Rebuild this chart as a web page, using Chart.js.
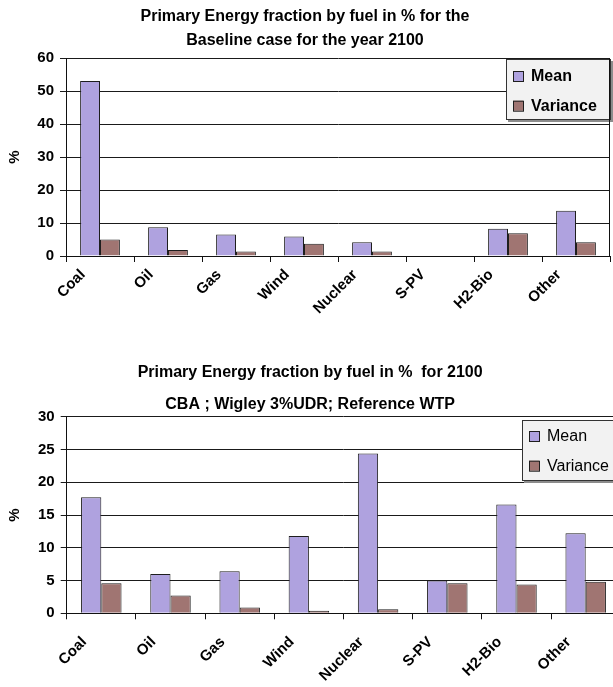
<!DOCTYPE html>
<html>
<head>
<meta charset="utf-8">
<script src="https://cdn.jsdelivr.net/npm/chart.js@4"></script>
<style>
  html, body { margin: 0; padding: 0; background: #fff; width: 613px; height: 687px; overflow: hidden; position: relative; }
  canvas { position: absolute; left: 0; }
  #baseline { top: 0; }
  #cba { top: 350px; }
</style>
</head>
<body>
<canvas id="baseline" width="613" height="330"></canvas>
<canvas id="cba" width="662" height="337"></canvas>
<script>
// Fuel categories shared by both panels
const fuels = ['Coal', 'Oil', 'Gas', 'Wind', 'Nuclear', 'S-PV', 'H2-Bio', 'Other'];

// Baseline case, year 2100 (% of primary energy)
const baselineMean     = [53.1, 8.7, 6.5, 5.9, 4.2, 0, 8.3, 13.7];
const baselineVariance = [5.0, 1.8, 1.4, 3.7, 1.4, 0, 6.9, 4.2];
const baselineTicks    = [0, 10, 20, 30, 40, 50, 60];

// CBA ; Wigley 3%UDR ; Reference WTP, year 2100
const cbaMean     = [17.7, 6.0, 6.4, 11.8, 24.4, 5.0, 16.6, 12.2];
const cbaVariance = [4.6, 2.7, 0.9, 0.4, 0.6, 4.6, 4.4, 4.8];
const cbaTicks    = [0, 5, 10, 15, 20, 25, 30];

const FONT = '"Liberation Sans", Arial, Helvetica, sans-serif';
const MEAN_COLOR = '#afa2df';
const VAR_COLOR = '#a07572';
const EDGE = '#1e1e1e';

// Boxed legend drawn inside the plot area
const boxLegend = {
  id: 'boxLegend',
  afterDatasetsDraw(chart, args, o) {
    if (!o || !o.w) return;
    const ctx = chart.ctx;
    ctx.save();
    ctx.fillStyle = '#8c8c8c';
    ctx.fillRect(o.x + 2, o.y + 2, o.w, o.h);
    ctx.fillStyle = '#f2f2f2';
    ctx.fillRect(o.x, o.y, o.w, o.h);
    ctx.strokeStyle = '#333';
    ctx.lineWidth = 1;
    ctx.strokeRect(o.x + 0.5, o.y + 0.5, o.w - 1, o.h - 1);
    ctx.font = o.font;
    ctx.textBaseline = 'middle';
    ctx.textAlign = 'left';
    chart.data.datasets.forEach((ds, i) => {
      const cy = o.rows[i];
      ctx.fillStyle = ds.backgroundColor;
      ctx.fillRect(o.swatchX, cy - 5, 10, 10);
      ctx.strokeStyle = EDGE;
      ctx.strokeRect(o.swatchX + 0.5, cy - 4.5, 10, 10);
      ctx.fillStyle = '#000';
      ctx.fillText(ds.label, o.textX, cy + 1);
    });
    ctx.restore();
  }
};

// Right-hand border of the plot area
const plotFrame = {
  id: 'plotFrame',
  afterDraw(chart, args, o) {
    if (!o || !o.right) return;
    const { ctx, chartArea } = chart;
    const x = Math.round(chartArea.right) - 0.5;
    ctx.save();
    ctx.strokeStyle = '#111';
    ctx.lineWidth = 1;
    ctx.beginPath();
    ctx.moveTo(x, chartArea.top);
    ctx.lineTo(x, chartArea.bottom);
    ctx.stroke();
    ctx.restore();
  }
};

function makeChart(id, o) {
  return new Chart(document.getElementById(id), {
    type: 'bar',
    data: {
      labels: fuels,
      datasets: [
        { label: 'Mean', data: o.mean, backgroundColor: MEAN_COLOR, borderColor: EDGE, borderWidth: 1 },
        { label: 'Variance', data: o.variance, backgroundColor: VAR_COLOR, borderColor: EDGE, borderWidth: 1 }
      ]
    },
    options: {
      responsive: false,
      animation: false,
      devicePixelRatio: 1,
      layout: { padding: { left: 0, right: o.padRight, top: 0, bottom: 0 } },
      datasets: { bar: { categoryPercentage: 0.585, barPercentage: 1 } },
      plugins: {
        legend: { display: false },
        tooltip: { enabled: false },
        title: {
          display: true, text: o.title, color: '#000',
          font: { family: FONT, size: 16, weight: 'bold', lineHeight: 1.2 },
          padding: o.titlePad
        },
        subtitle: {
          display: true, text: o.subtitle, color: '#000',
          font: { family: FONT, size: 16, weight: 'bold', lineHeight: 1.2 },
          padding: o.subtitlePad
        },
        boxLegend: o.legend,
        plotFrame: { right: o.rightBorder }
      },
      scales: {
        x: {
          grid: { offset: true, drawOnChartArea: false, drawTicks: true, tickLength: 6, color: '#111', lineWidth: 1 },
          border: { color: '#111', width: 1 },
          ticks: {
            autoSkip: false, maxRotation: 45, minRotation: 45,
            labelOffset: -17, padding: o.xPad, color: '#000',
            font: { family: FONT, size: 15, weight: 'bold' }
          },
          afterFit: s => { s.height = o.xHeight; }
        },
        y: {
          min: 0, max: o.ticks[o.ticks.length - 1],
          afterBuildTicks: s => { s.ticks = o.ticks.map(v => ({ value: v })); },
          grid: { color: '#1a1a1a', lineWidth: 1, drawTicks: true, tickLength: 6 },
          border: { color: '#111', width: 1 },
          ticks: { padding: 6, color: '#000', font: { family: FONT, size: 15, weight: 'bold' } },
          title: {
            display: true, text: '%', color: '#000',
            font: { family: FONT, size: 15, weight: 'bold' },
            padding: { top: 6, bottom: 0 }
          },
          afterFit: s => { s.width = o.yWidth; }
        }
      }
    },
    plugins: [boxLegend, plotFrame]
  });
}

makeChart('baseline', {
  mean: baselineMean, variance: baselineVariance, ticks: baselineTicks,
  title: 'Primary Energy fraction by fuel in % for the',
  subtitle: 'Baseline case for the year 2100',
  titlePad: { top: 7.4, bottom: 2 },
  subtitlePad: { top: 2.8, bottom: 7.7 },
  padRight: 3, yWidth: 66, xHeight: 74, xPad: 4, rightBorder: true,
  legend: { x: 506, y: 59, w: 105, h: 61, swatchX: 513, textX: 531, rows: [76, 105.7],
            font: 'bold 16px ' + FONT }
});

makeChart('cba', {
  mean: cbaMean, variance: cbaVariance, ticks: cbaTicks,
  title: 'Primary Energy fraction by fuel in %  for 2100',
  subtitle: 'CBA ; Wigley 3%UDR; Reference WTP',
  titlePad: { top: 13.4, bottom: 6 },
  subtitlePad: { top: 6.8, bottom: 2.1 },
  padRight: 41.7, yWidth: 66.7, xHeight: 73.7, xPad: 14, rightBorder: false,
  legend: { x: 522, y: 70, w: 105, h: 61, swatchX: 529, textX: 547, rows: [86, 115.7],
            font: '16px ' + FONT }
});
</script>
</body>
</html>
